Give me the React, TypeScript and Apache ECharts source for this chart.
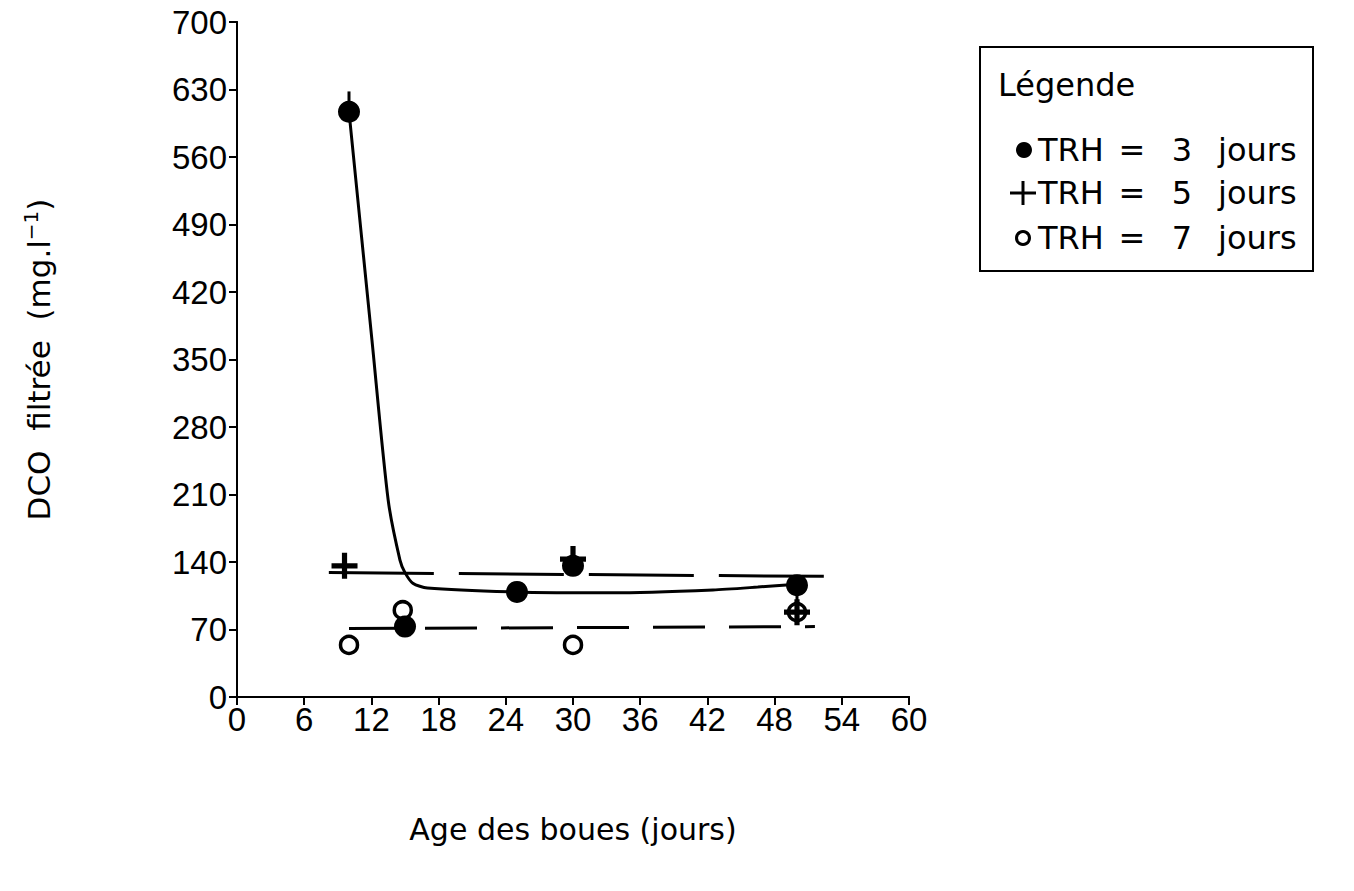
import React, { useEffect, useRef } from "react";
import * as echarts from "echarts";

// Data
const xTicks = [0, 6, 12, 18, 24, 30, 36, 42, 48, 54, 60];
const yTicks = [0, 70, 140, 210, 280, 350, 420, 490, 560, 630, 700];

const trh3Points: [number, number][] = [
  [10, 607],
  [15, 73],
  [25, 109],
  [30, 136],
  [50, 116],
];
const trh5Points: [number, number][] = [
  [9.6, 136],
  [30, 143],
  [50, 88],
];
const trh7Points: [number, number][] = [
  [10, 54],
  [14.8, 90],
  [30, 54],
  [50, 88],
];
// Error bars: [x, low, high]
const errorBars: [number, number, number][] = [
  [10, 607, 628],
  [50, 75, 116],
];

// Fitted curve for TRH = 3 jours (solid line)
const trh3Curve: [number, number][] = [
  [10, 607],
  [12.05, 370],
  [13.5, 204],
  [14.55, 142],
  [15.0, 129],
  [15.7, 118],
  [17.0, 113],
  [24.6, 109],
  [33.6, 108],
  [42.5, 111],
  [46.5, 114],
  [50, 117],
];
// Mean lines
const trh5Trend: [number, number][] = [
  [8.2, 129],
  [53.6, 125],
];
const trh7Trend: [number, number][] = [
  [10, 71],
  [51.6, 73],
];

const TICK_FONT = "Liberation Sans";
const FONT = "DejaVu Sans";
const PLUS = "path://M4,0H6V4H10V6H6V10H4V6H0V4H4Z";

export default function App() {
  const ref = useRef<HTMLDivElement>(null);
  useEffect(() => {
    if (!ref.current) return;
    const chart = echarts.init(ref.current, undefined, { renderer: "svg" });
    const axisLine = { show: true, lineStyle: { color: "#000", width: 2 } };
    const rows = [
      { y: 150, n: "3" },
      { y: 193, n: "5" },
      { y: 238, n: "7" },
    ];
    const txt = (x: number, y: number, s: string, align = "left") => ({
      type: "text",
      x,
      y,
      style: {
        text: s,
        font: `32px "${FONT}"`,
        fill: "#000",
        align,
        verticalAlign: "middle",
      },
    });
    chart.setOption({
      animation: false,
      backgroundColor: "#fff",
      grid: { left: 237, right: 445, top: 22, bottom: 194, containLabel: false },
      xAxis: [
        {
          type: "value",
          min: 0,
          max: 60,
          interval: 6,
          position: "bottom",
          axisLine,
          axisTick: { show: true, inside: false, length: 8, lineStyle: { color: "#000", width: 2 } },
          axisLabel: {
            color: "#000",
            fontFamily: TICK_FONT,
            fontSize: 33,
            margin: 6,
            formatter: (v: number) => (xTicks.includes(v) ? String(v) : ""),
          },
          splitLine: { show: false },
          name: "Age des boues (jours)",
          nameLocation: "middle",
          nameGap: 117,
          nameTextStyle: { color: "#000", fontFamily: FONT, fontSize: 30 },
        },
        {
          type: "value",
          min: 0,
          max: 60,
          interval: 6,
          position: "top",
          axisLine,
          axisTick: { show: true, inside: true, length: 7, lineStyle: { color: "#000", width: 2 } },
          axisLabel: { show: false },
          splitLine: { show: false },
        },
      ],
      yAxis: [
        {
          type: "value",
          min: 0,
          max: 700,
          interval: 70,
          position: "left",
          axisLine,
          axisTick: { show: true, inside: false, length: 8, lineStyle: { color: "#000", width: 2 } },
          axisLabel: {
            color: "#000",
            fontFamily: TICK_FONT,
            fontSize: 33,
            margin: 10,
            formatter: (v: number) => (yTicks.includes(v) ? String(v) : ""),
          },
          splitLine: { show: false },
          name: "{a|DCO  filtrée  (mg.l}{b|−1}{a|)}",
          nameLocation: "middle",
          nameGap: 180,
          nameRotate: 90,
          nameTextStyle: {
            color: "#000",
            rich: {
              a: { fontFamily: FONT, fontSize: 31, color: "#000" },
              b: { fontFamily: FONT, fontSize: 20, color: "#000", padding: [0, 0, 16, 0] },
            },
          },
        },
        {
          type: "value",
          min: 0,
          max: 700,
          interval: 70,
          position: "right",
          axisLine,
          axisTick: { show: true, inside: true, length: 7, lineStyle: { color: "#000", width: 2 } },
          axisLabel: { show: false },
          splitLine: { show: false },
        },
      ],
      series: [
        {
          type: "line",
          data: trh3Curve,
          smooth: 0.25,
          showSymbol: false,
          lineStyle: { color: "#000", width: 3 },
          z: 2,
        },
        {
          type: "line",
          data: trh5Trend,
          showSymbol: false,
          lineStyle: { color: "#000", width: 3, type: [105, 25] },
          z: 2,
        },
        {
          type: "line",
          data: trh7Trend,
          showSymbol: false,
          lineStyle: { color: "#000", width: 3, type: [52, 24] },
          z: 2,
        },
        {
          type: "custom",
          data: errorBars,
          z: 2,
          renderItem: (params: any, api: any) => {
            const x = api.value(0);
            const lo = api.coord([x, api.value(1)]);
            const hi = api.coord([x, api.value(2)]);
            return {
              type: "line",
              shape: { x1: lo[0], y1: lo[1], x2: hi[0], y2: hi[1] },
              style: { stroke: "#000", lineWidth: 3 },
            };
          },
        },
        {
          type: "scatter",
          data: trh7Points,
          symbol: "circle",
          symbolSize: 17,
          itemStyle: { color: "#fff", borderColor: "#000", borderWidth: 3.5, opacity: 1 },
          z: 3,
        },
        {
          type: "scatter",
          data: trh3Points,
          symbol: "circle",
          symbolSize: 22,
          itemStyle: { color: "#000", opacity: 1 },
          z: 4,
        },
        {
          type: "scatter",
          data: trh5Points,
          symbol: PLUS,
          symbolSize: 26,
          itemStyle: { color: "#000", opacity: 1 },
          z: 5,
        },
      ],
      graphic: [
        {
          type: "rect",
          shape: { x: 980, y: 47, width: 333, height: 224 },
          style: { fill: "none", stroke: "#000", lineWidth: 2 },
        },
        txt(998, 85, "Légende"),
        {
          type: "circle",
          shape: { cx: 1024, cy: rows[0].y, r: 8 },
          style: { fill: "#000" },
        },
        {
          type: "rect",
          shape: { x: 1010, y: rows[1].y - 1.5, width: 26, height: 3 },
          style: { fill: "#000" },
        },
        {
          type: "rect",
          shape: { x: 1021.5, y: rows[1].y - 12, width: 3, height: 24 },
          style: { fill: "#000" },
        },
        {
          type: "circle",
          shape: { cx: 1023, cy: rows[2].y, r: 6.5 },
          style: { fill: "none", stroke: "#000", lineWidth: 3 },
        },
        ...rows.flatMap((r) => [
          txt(1038, r.y, "TRH"),
          txt(1132, r.y, "=", "center"),
          txt(1182, r.y, r.n, "center"),
          txt(1218, r.y, "jours"),
        ]),
      ],
    });
    return () => chart.dispose();
  }, []);
  return <div ref={ref} style={{ width: 1354, height: 891, margin: -8 }} />;
}
